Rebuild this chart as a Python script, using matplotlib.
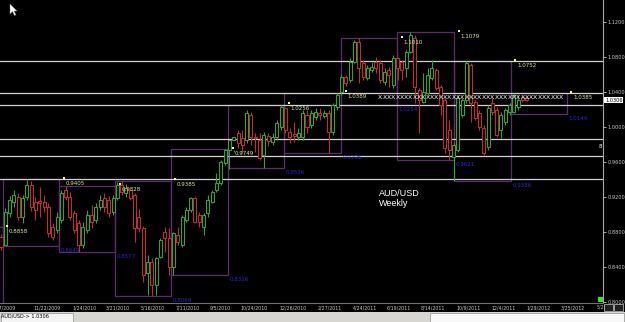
import matplotlib
matplotlib.use("Agg")
import matplotlib.pyplot as plt
from matplotlib.patches import Rectangle, Polygon

# ---------------- data (weekly AUD/USD candles) ----------------
opens = [0.875, 0.865, 0.902, 0.915, 0.920, 0.897, 0.920, 0.934, 0.914, 0.916,
         0.915, 0.909, 0.886, 0.883, 0.894, 0.928, 0.920, 0.902, 0.891, 0.866,
         0.883, 0.900, 0.894, 0.909, 0.919, 0.917, 0.903, 0.919, 0.934, 0.925,
         0.928, 0.923, 0.897, 0.885, 0.834, 0.846, 0.820, 0.852, 0.880, 0.874,
         0.840, 0.877, 0.866, 0.894, 0.905, 0.919, 0.900, 0.886, 0.902, 0.915,
         0.928, 0.936, 0.959, 0.974, 0.985, 0.993, 0.988, 0.985, 1.014, 0.989,
         0.985, 0.968, 0.990, 0.983, 0.989, 1.000, 1.022, 0.994, 0.992, 0.989,
         0.989, 1.014, 1.002, 1.011, 1.016, 1.013, 1.016, 0.994, 1.023, 1.040,
         1.057, 1.054, 1.074, 1.097, 1.073, 1.056, 1.065, 1.074, 1.073, 1.051,
         1.065, 1.048, 1.079, 1.074, 1.067, 1.086, 1.101, 1.042, 1.028, 1.039,
         1.056, 1.065, 1.046, 1.031, 0.997, 0.966, 0.974, 1.014, 1.031, 1.071,
         1.028, 1.016, 0.999, 0.977, 1.027, 1.019, 0.997, 1.006, 1.017, 1.017,
         1.023, 1.034, 1.033]
highs = [0.878, 0.908, 0.921, 0.928, 0.925, 0.923, 0.9405, 0.939, 0.920, 0.932,
         0.923, 0.913, 0.891, 0.903, 0.928, 0.933, 0.926, 0.905, 0.894, 0.892,
         0.905, 0.911, 0.913, 0.923, 0.925, 0.921, 0.923, 0.937, 0.9385, 0.935,
         0.932, 0.925, 0.907, 0.887, 0.854, 0.851, 0.852, 0.874, 0.886, 0.885,
         0.880, 0.886, 0.900, 0.909, 0.920, 0.920, 0.903, 0.902, 0.923, 0.928,
         0.948, 0.962, 0.975, 0.974, 0.974, 0.997, 0.997, 1.019, 1.017, 0.993,
         0.993, 0.994, 0.993, 0.993, 1.008, 1.0256, 1.022, 0.999, 1.006, 0.999,
         1.019, 1.019, 1.019, 1.022, 1.022, 1.019, 1.019, 1.027, 1.0389, 1.060,
         1.059, 1.079, 1.099, 1.101, 1.076, 1.071, 1.074, 1.080, 1.076, 1.067,
         1.068, 1.082, 1.080, 1.076, 1.088, 1.108, 1.105, 1.044, 1.062, 1.067,
         1.076, 1.067, 1.048, 1.033, 1.008, 0.982, 1.037, 1.033, 1.0752, 1.073,
         1.031, 1.019, 1.002, 1.025, 1.033, 1.023, 1.017, 1.022, 1.027, 1.0385,
         1.037, 1.037, 1.035]
lows = [0.860, 0.865, 0.897, 0.909, 0.894, 0.891, 0.917, 0.904, 0.894, 0.897,
        0.903, 0.875, 0.871, 0.879, 0.891, 0.917, 0.894, 0.879, 0.858, 0.862,
        0.879, 0.885, 0.891, 0.905, 0.903, 0.897, 0.900, 0.917, 0.923, 0.920,
        0.917, 0.869, 0.880, 0.823, 0.809, 0.807, 0.809, 0.851, 0.858, 0.831,
        0.8316, 0.866, 0.863, 0.892, 0.903, 0.891, 0.886, 0.877, 0.897, 0.913,
        0.926, 0.934, 0.957, 0.952, 0.972, 0.976, 0.972, 0.982, 0.980, 0.972,
        0.962, 0.9536, 0.978, 0.980, 0.985, 0.997, 0.993, 0.982, 0.983, 0.985,
        0.985, 0.993, 0.999, 1.008, 1.008, 1.010, 0.9706, 0.991, 1.019, 1.037,
        1.047, 1.051, 1.073, 1.050, 1.054, 1.054, 1.063, 1.062, 1.050, 1.048,
        1.046, 1.045, 1.054, 1.054, 1.057, 1.084, 1.027, 0.993, 1.027, 1.037,
        1.054, 1.042, 1.014, 0.970, 0.962, 0.9386, 0.972, 1.011, 1.027, 1.006,
        1.008, 0.997, 0.968, 0.974, 1.014, 0.989, 0.988, 1.002, 1.014, 1.016,
        1.019, 1.028, 1.030]
closes = [0.863, 0.903, 0.917, 0.923, 0.897, 0.919, 0.934, 0.909, 0.905, 0.913,
          0.909, 0.879, 0.875, 0.897, 0.925, 0.920, 0.897, 0.883, 0.866, 0.886,
          0.900, 0.892, 0.909, 0.917, 0.909, 0.902, 0.919, 0.934, 0.926, 0.930,
          0.919, 0.885, 0.885, 0.831, 0.846, 0.820, 0.851, 0.871, 0.874, 0.840,
          0.879, 0.869, 0.897, 0.905, 0.919, 0.892, 0.892, 0.900, 0.917, 0.926,
          0.936, 0.960, 0.974, 0.985, 0.989, 0.982, 0.980, 1.016, 0.989, 0.987,
          0.965, 0.991, 0.984, 0.989, 1.005, 1.023, 0.997, 0.989, 0.990, 0.993,
          1.016, 1.000, 1.016, 1.017, 1.014, 1.016, 0.994, 1.025, 1.037, 1.057,
          1.050, 1.074, 1.097, 1.067, 1.057, 1.067, 1.068, 1.067, 1.054, 1.063,
          1.059, 1.079, 1.067, 1.065, 1.086, 1.105, 1.046, 1.031, 1.040, 1.059,
          1.067, 1.045, 1.025, 0.976, 0.974, 0.980, 1.033, 1.031, 1.073, 1.027,
          1.010, 1.000, 0.970, 1.022, 1.017, 0.991, 1.014, 1.019, 1.025, 1.037,
          1.031, 1.031, 1.031]

tick_pos = [0.7, 10.7, 19.5, 27.1, 35.3, 43.4, 51.0, 58.7, 67.7, 76.3, 84.5,
            92.3, 100.2, 108.4, 116.5, 124.8, 132.7]
tick_labels = ["9/27/2009", "11/22/2009", "1/24/2010", "3/21/2010", "5/16/2010",
               "7/11/2010", "9/5/2010", "10/24/2010", "12/26/2010", "2/27/2011",
               "4/24/2011", "6/19/2011", "8/14/2011", "10/9/2011", "12/4/2011",
               "1/29/2012", "3/25/2012"]

# quarterly range boxes
box_edges = [-12.6, 0.4, 13.5, 26.5, 39.4, 52.7, 65.7, 78.9, 91.9, 105.2, 118.3, 131.3]
box_highs = [0.8858, 0.9405, 0.9328, 0.9385, 0.9749, 1.0256, 1.0389, 1.1010, 1.1079, 1.0752, 1.0385]
box_lows = [0.7700, 0.8649, 0.8577, 0.8069, 0.8316, 0.9536, 0.9706, 1.0254, 0.9621, 0.9386, 1.0144]
box_high_labels = ["0.8858", "0.9405", "0.9328", "0.9385", "0.9749", "1.0256", "1.0389",
                   "1.1010", "1.1079", "1.0752", "1.0385"]
box_low_labels = ["", "0.8649", "0.8577", "0.8069", "0.8316", "0.9536", "0.9706",
                  "1.0254", "0.9621", "0.9386", "1.0144"]

level_lines = [1.0752, 1.0385, 1.0256, 0.9860, 0.9670, 0.9405]
x_row_start, x_row_end, x_row_level = 88, 130, 1.0340
current_price = 1.0306
y_ticks = [0.80, 0.84, 0.88, 0.92, 0.96, 1.00, 1.04, 1.08, 1.12]

# ---------------- drawing ----------------
W, H = 625, 322
fig = plt.figure(figsize=(W / 100, H / 100), dpi=100, facecolor="black")
ax = fig.add_axes([0, 19 / H, 603 / W, 303 / H])
ax.set_facecolor("black")
ax.set_xlim(-0.232, 139.68)
ax.set_ylim(0.7994, 1.1448)

PX = 0.72  # points per pixel
GREEN, RED = "#3a9e3a", "#b8322e"
BOXC = "#5e2c70"

# boxes
for k in range(len(box_highs)):
    ax.add_patch(Rectangle((box_edges[k], box_lows[k]), box_edges[k + 1] - box_edges[k],
                           box_highs[k] - box_lows[k], fill=False, ec=BOXC, lw=0.9, zorder=1))

# level lines
for lv in level_lines:
    ax.axhline(lv, color="#d2d2d2", lw=0.9, zorder=2)

# candles
for i, (o, h, l, c) in enumerate(zip(opens, highs, lows, closes)):
    col = GREEN if c >= o else RED
    ax.plot([i, i], [l, h], color=col, lw=0.8, zorder=3, solid_capstyle="butt")
    ax.add_patch(Rectangle((i - 0.35, min(o, c)), 0.7, max(abs(c - o), 0.0008),
                           fc="black", ec=col, lw=0.8, zorder=4))

# box labels
for k in range(len(box_highs)):
    xe = box_edges[k + 1]
    ax.annotate(box_high_labels[k], xy=(xe, box_highs[k]), xytext=(6 * PX, -4 * PX),
                textcoords="offset points", ha="left", va="center", color="#e6e69a",
                fontsize=4, zorder=6, annotation_clip=False)
    ax.plot([xe + 4.5 / 4.31], [box_highs[k] + 1.5 * 0.00114], marker="s", ms=1.6,
            color="#ffff70", mew=0, zorder=6)
    if box_low_labels[k]:
        ax.annotate(box_low_labels[k], xy=(xe, box_lows[k]), xytext=(1.5 * PX, -4.5 * PX),
                    textcoords="offset points", ha="left", va="center", color="#2a2ad0",
                    fontsize=4, zorder=6, annotation_clip=False)

# X row
for b in range(x_row_start, x_row_end + 1):
    ax.text(b, x_row_level, "X", color="white", fontsize=4.4, ha="center", va="center",
            zorder=7)

# title text
ax.text(87.7, 0.9185, "AUD/USD\nWeekly", color="white", fontsize=6.5,
        family="Liberation Sans", ha="left", va="center", linespacing=1.05, zorder=7)

# axes styling
for s in ["top", "left"]:
    ax.spines[s].set_visible(False)
ax.spines["right"].set_color("#a8a8a8")
ax.spines["right"].set_linewidth(0.8)
ax.spines["bottom"].set_color("#707070")
ax.spines["bottom"].set_linewidth(0.8)
ax.yaxis.tick_right()
ax.set_yticks(y_ticks)
ax.set_yticklabels([f"{v:.4f}" for v in y_ticks])
ax.tick_params(axis="y", colors="#c8c8c8", labelsize=3.6, length=2, width=0.6, pad=1)
ax.set_xticks(tick_pos)
ax.set_xticklabels(tick_labels)
ax.tick_params(axis="x", colors="#c8c8c8", labelsize=3.4, length=0, pad=1.8)

# current price tag
ax.annotate(f"{current_price:.4f}", xy=(1, current_price), xycoords=("axes fraction", "data"),
            xytext=(1.5, 0), textcoords="offset points", ha="left", va="center",
            fontsize=3.6, color="black", annotation_clip=False,
            bbox=dict(boxstyle="square,pad=0.15", fc="white", ec="none"))

# small decorations (figure pixel coords -> fraction)
def fx(x):
    return x / W

def fy(y):
    return 1 - y / H

fig.patches.append(Rectangle((fx(598), fy(302)), 5 / W, 5 / H, transform=fig.transFigure,
                             fc="#22ee22", ec="none"))
fig.text(fx(600), fy(147), "8", color="white", fontsize=4, ha="center", va="center")
# cursor
fig.patches.append(Polygon([(fx(10), fy(4)), (fx(10), fy(14)), (fx(12.5), fy(11.5)),
                            (fx(14.5), fy(15.5)), (fx(16), fy(14.8)), (fx(14), fy(11)),
                            (fx(17), fy(11))], closed=True, transform=fig.transFigure,
                           fc="white", ec="#888888", lw=0.3))
# bottom-right widgets
fig.text(fx(597), fy(307), "5/20/2012", color="#c8c8c8", fontsize=3.4, ha="left", va="center")
for bx in (604, 614):
    fig.patches.append(Rectangle((fx(bx), fy(311)), 9 / W, 7 / H, transform=fig.transFigure,
                                 fc="#202020", ec="#d0d0d0", lw=0.5, zorder=5))
# status bar
fig.patches.append(Rectangle((0, 0), 1, 10 / H, transform=fig.transFigure,
                             fc="#d8d6d0", ec="none"))
fig.patches.append(Rectangle((fx(0.5), fy(321.5)), 72 / W, 9 / H, transform=fig.transFigure,
                             fc="#f4f4f4", ec="#909090", lw=0.5))
fig.patches.append(Rectangle((fx(430), fy(321.5)), 194 / W, 9 / H, transform=fig.transFigure,
                             fc="#f8f8f8", ec="#909090", lw=0.5))
fig.text(fx(1.5), fy(316.5), "AUD/USD-> 1.0306", color="black", fontsize=3.6,
         ha="left", va="center")

fig.savefig("out.png", dpi=100, facecolor="black")
